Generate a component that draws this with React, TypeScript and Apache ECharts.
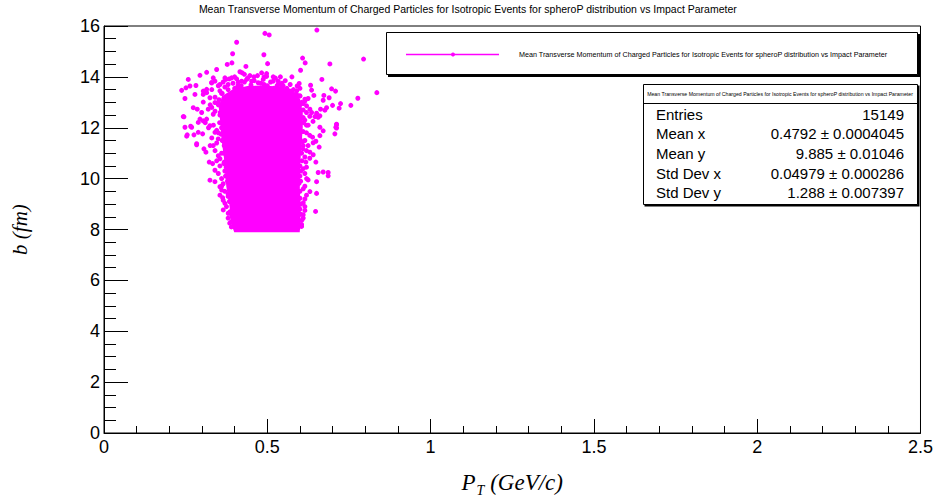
import React, { useEffect, useRef } from "react";
import * as echarts from "echarts";

const TITLE = "Mean Transverse Momentum of Charged Particles for Isotropic Events for spheroP distribution vs Impact Parameter";

// x-axis / y-axis ranges & ticks
const xRange = [0, 2.5];
const yRange = [0, 16];

// Dense core outline (data coordinates: pT, b)
const coreX = [0.402, 0.595, 0.598, 0.595, 0.596, 0.600, 0.604, 0.604, 0.596, 0.575, 0.540, 0.490, 0.440, 0.395, 0.365, 0.356, 0.360, 0.364, 0.372, 0.379, 0.388, 0.395];
const coreY = [7.95, 7.95, 8.8, 9.6, 10.5, 11.3, 12.0, 12.6, 13.1, 13.4, 13.55, 13.6, 13.58, 13.45, 13.2, 12.8, 12.3, 11.6, 10.8, 9.7, 9.0, 8.2];

// Individually visible points (pT, b)
const ptX = [
  0.4927, 0.5058, 0.4061, 0.3938, 0.4896, 0.3773, 0.3917, 0.4345, 0.5009, 0.3449, 0.4162, 0.4232, 0.3143, 0.2938, 0.4826, 0.4979,
  0.2580, 0.2378, 0.2509, 0.2632, 0.2815, 0.2479, 0.2785, 0.2448, 0.2479, 0.2684, 0.2733, 0.2855, 0.3039, 0.3143, 0.3296, 0.3345,
  0.3703, 0.3834, 0.4061, 0.4213, 0.4468, 0.4590, 0.5181, 0.5334, 0.5438, 0.3039, 0.2990, 0.2938,
  0.6518, 0.6080, 0.6160, 0.6916, 0.7947, 0.6019, 0.5753, 0.6671, 0.6325, 0.5976, 0.5915, 0.6356, 0.6426, 0.6968, 0.7090, 0.8354,
  0.7772, 0.6732, 0.6894, 0.6711, 0.7243, 0.7558, 0.7200, 0.6998, 0.6815, 0.6763, 0.6631, 0.6509, 0.6558, 0.6610, 0.7120, 0.7099,
  0.6610, 0.6304, 0.6356, 0.6457, 0.5998, 0.6151, 0.6203,
  0.7120, 0.7120, 0.7069, 0.6711, 0.6610, 0.6487, 0.6386, 0.6405, 0.6588, 0.6304, 0.6405, 0.6487, 0.6864, 0.6711, 0.6558, 0.6864,
  0.6509, 0.6304, 0.6509, 0.6151, 0.6151, 0.6099, 0.6478, 0.6050, 0.6203, 0.6099, 0.6181,
  0.2653, 0.2886, 0.3039, 0.2549, 0.2754, 0.2886, 0.3020, 0.2837, 0.3060, 0.3121, 0.3222, 0.3326, 0.3397, 0.3244, 0.3397, 0.3550,
  0.3602, 0.3550, 0.3632, 0.3703, 0.3651, 0.3804, 0.3908, 0.4009, 0.2427, 0.2531, 0.2837,
  0.3296, 0.3397, 0.3550, 0.3733, 0.3908, 0.4110, 0.4367, 0.4520, 0.4722, 0.4875, 0.4979, 0.5181, 0.5334, 0.5487, 0.5692, 0.5845,
  0.5998, 0.6151, 0.3143, 0.3039, 0.3244, 0.3397, 0.3191, 0.3345, 0.3143, 0.3244, 0.3397, 0.3498, 0.3345, 0.355, 0.367,
  0.600, 0.609, 0.597, 0.600, 0.606, 0.594, 0.41, 0.44, 0.47, 0.50, 0.53, 0.56, 0.59,
  0.37, 0.40, 0.45, 0.50, 0.52, 0.42, 0.47, 0.36, 0.55, 0.57, 0.35, 0.33, 0.60, 0.61, 0.62, 0.60, 0.61, 0.60, 0.60, 0.61, 0.60,
  0.36, 0.35, 0.36, 0.37, 0.365, 0.38, 0.39, 0.39, 0.595,
  0.31, 0.32, 0.335, 0.345, 0.33, 0.345, 0.325, 0.34, 0.35, 0.345, 0.355, 0.35, 0.36, 0.36, 0.37, 0.365, 0.375, 0.38, 0.385,
  0.355, 0.34, 0.325, 0.34, 0.355, 0.33,
  0.615, 0.625, 0.62, 0.63, 0.615, 0.625, 0.62, 0.615, 0.63, 0.62, 0.615, 0.625, 0.615, 0.62, 0.61, 0.615, 0.61, 0.605,
  0.63, 0.64, 0.62, 0.61, 0.625, 0.59, 0.60, 0.57, 0.555, 0.54,
  0.38, 0.395, 0.41, 0.43, 0.44, 0.46, 0.48, 0.49, 0.51, 0.525, 0.545, 0.47, 0.43, 0.40, 0.365, 0.35,
  0.392, 0.386, 0.384, 0.380, 0.378, 0.372, 0.374, 0.368, 0.366, 0.368, 0.362, 0.358, 0.360, 0.354, 0.356, 0.350, 0.352, 0.362, 0.380,
  0.600, 0.602, 0.603, 0.600, 0.602, 0.603, 0.606, 0.605, 0.608, 0.610, 0.611, 0.610, 0.605, 0.590, 0.580,
  0.41, 0.45, 0.49, 0.53, 0.56,
];
const ptY = [
  15.71, 15.65, 15.36, 14.91, 14.87, 14.49, 14.55, 14.41, 14.52, 14.29, 14.20, 14.16, 14.18, 14.06, 14.16, 14.13,
  13.90, 13.47, 13.57, 13.64, 13.66, 13.15, 13.31, 12.43, 12.02, 12.02, 12.79, 12.73, 13.44, 13.38, 13.77, 13.96,
  13.96, 13.92, 13.92, 13.83, 14.05, 14.00, 14.00, 13.83, 13.64, 13.01, 12.60, 12.34,
  15.84, 14.74, 14.55, 14.51, 14.70, 14.26, 14.00, 13.90, 13.67, 13.74, 13.64, 13.48, 13.27, 13.53, 13.44, 13.38,
  13.16, 13.27, 13.18, 13.08, 12.95, 12.88, 12.77, 12.88, 12.79, 12.69, 12.73, 12.57, 12.41, 12.47, 12.14, 12.02,
  12.02, 12.73, 12.60, 12.44, 13.25, 13.05, 12.86,
  12.12, 11.99, 11.76, 11.88, 11.69, 11.47, 11.63, 11.41, 11.24, 11.04, 10.94, 10.65, 10.24, 10.26, 10.24, 10.11,
  9.88, 9.49, 9.42, 9.20, 8.90, 8.58, 8.71, 8.12, 10.00, 10.39, 10.65,
  12.06, 12.21, 12.27, 11.72, 11.72, 11.82, 11.76, 11.37, 11.17, 11.04, 10.65, 10.59, 10.33, 9.94, 9.88, 9.68,
  9.55, 9.35, 9.25, 9.03, 8.77, 8.64, 8.32, 8.12, 12.44, 11.67, 11.33,
  13.77, 13.83, 13.70, 13.90, 13.96, 13.79, 13.90, 13.83, 13.77, 13.90, 14.02, 13.83, 13.70, 13.64, 13.44, 13.31,
  13.25, 13.12, 13.51, 13.31, 13.18, 12.99, 12.73, 12.53, 12.34, 12.08, 11.82, 11.56, 11.30, 10.78, 10.59,
  11.56, 11.17, 9.81, 9.23, 8.37, 8.06, 8.03, 8.03, 8.03, 8.03, 8.03, 8.03, 8.03,
  13.6, 13.55, 13.6, 13.65, 13.55, 13.65, 13.5, 13.35, 13.4, 13.25, 13.0, 12.8, 12.9, 12.4, 12.1, 11.9, 11.3, 10.5, 10.1, 9.6, 8.8,
  12.2, 11.8, 11.0, 10.3, 9.8, 9.3, 8.6, 8.1, 8.3,
  12.2, 12.0, 12.1, 11.9, 11.6, 11.4, 11.3, 11.1, 10.9, 10.7, 10.5, 10.2, 10.0, 9.7, 9.5, 9.15, 8.9, 8.45, 8.25,
  12.5, 12.65, 12.9, 13.2, 13.45, 13.5,
  12.3, 12.1, 11.8, 11.7, 11.5, 11.3, 11.1, 10.85, 10.8, 10.45, 10.2, 9.95, 9.7, 9.35, 9.05, 8.75, 8.45, 8.2,
  12.45, 12.25, 12.6, 12.95, 13.15, 13.45, 13.55, 13.7, 13.85, 14.0,
  13.7, 13.75, 13.65, 13.8, 13.95, 13.85, 13.75, 14.0, 13.8, 13.95, 13.75, 14.05, 14.1, 14.0, 13.8, 13.65,
  8.5, 8.7, 9.1, 9.4, 9.9, 10.1, 10.45, 10.65, 11.0, 11.3, 11.5, 11.75, 12.0, 12.2, 12.6, 12.9, 13.1, 13.35, 13.5,
  8.15, 8.6, 9.0, 9.5, 9.9, 10.3, 10.7, 11.0, 11.45, 11.85, 12.2, 12.7, 13.0, 13.3, 13.5,
  13.6, 13.68, 13.7, 13.65, 13.55,
];

// Statistics box
const statLabels = ["Entries", "Mean x", "Mean y", "Std Dev x", "Std Dev y"];
const statValues = ["15149", "0.4792 \u00b1 0.0004045", "9.885 \u00b1 0.01046", "0.04979 \u00b1 0.000286", "1.288 \u00b1 0.007397"];

const MAGENTA = "#ff00ff";
const SANS = "'Liberation Sans', Arial, sans-serif";
const SERIF = "'Liberation Serif', 'Times New Roman', serif";

export default function App() {
  const ref = useRef<HTMLDivElement>(null);
  useEffect(() => {
    if (!ref.current) return;
    const chart = echarts.init(ref.current, undefined, { renderer: "svg" });
    const points = ptX.map((x, i) => [x, ptY[i]]);
    const statRowY = [114, 133.5, 153, 173, 192.5];
    const graphics: any[] = [
      // title
      { type: "text", left: "center", top: 3, style: { text: TITLE, font: `10.5px 'Liberation Sans Narrow', ${SANS}`, fill: "#000" } },
      // legend box
      { type: "rect", shape: { x: 388, y: 34, width: 532, height: 43 }, style: { fill: "#000" }, z: 10 },
      { type: "rect", shape: { x: 386.5, y: 32.5, width: 531, height: 42 }, style: { fill: "#fff", stroke: "#000", lineWidth: 1 }, z: 11 },
      { type: "line", shape: { x1: 406, y1: 54.5, x2: 499, y2: 54.5 }, style: { stroke: MAGENTA, lineWidth: 1.5 }, z: 12 },
      { type: "circle", shape: { cx: 453, cy: 54.5, r: 2 }, style: { fill: MAGENTA }, z: 12 },
      { type: "text", x: 519, y: 54.5, style: { text: TITLE, font: `7.2px ${SANS}`, fill: "#000", verticalAlign: "middle" }, z: 12 },
      // stats box
      { type: "rect", shape: { x: 644.5, y: 85.5, width: 275, height: 121 }, style: { fill: "#000" }, z: 10 },
      { type: "rect", shape: { x: 643.5, y: 84.5, width: 274, height: 120 }, style: { fill: "#fff", stroke: "#000", lineWidth: 1 }, z: 11 },
      { type: "line", shape: { x1: 643.5, y1: 103.5, x2: 917.5, y2: 103.5 }, style: { stroke: "#000", lineWidth: 1 }, z: 12 },
      { type: "text", x: 780, y: 94, style: { text: TITLE, font: `5.2px ${SANS}`, fill: "#000", align: "center", verticalAlign: "middle" }, z: 12 },
    ];
    statLabels.forEach((l, i) => {
      graphics.push({ type: "text", x: 656, y: statRowY[i], style: { text: l, font: `15px ${SANS}`, fill: "#000", verticalAlign: "middle" }, z: 12 });
      graphics.push({ type: "text", x: 904, y: statRowY[i], style: { text: statValues[i], font: `15px ${SANS}`, fill: "#000", align: "right", verticalAlign: "middle" }, z: 12 });
    });

    chart.setOption({
      animation: false,
      backgroundColor: "#fff",
      grid: { left: 104, top: 26, width: 817, height: 411, show: true, borderColor: "#000", borderWidth: 1, backgroundColor: "transparent" },
      xAxis: {
        type: "value",
        min: xRange[0],
        max: xRange[1],
        interval: 0.5,
        name: "{p|P}{t|T}{p| (GeV/c)}",
        nameLocation: "middle",
        nameGap: 34,
        nameTextStyle: {
          rich: {
            p: { fontFamily: SERIF, fontStyle: "italic", fontSize: 23, color: "#000" },
            t: { fontFamily: SERIF, fontStyle: "italic", fontSize: 14, color: "#000", padding: [16, 0, 0, 1] },
          },
        },
        axisLine: { show: true, lineStyle: { color: "#000", width: 1 } },
        axisTick: { show: true, inside: true, length: 14, lineStyle: { color: "#000" } },
        minorTick: { show: true, splitNumber: 5, length: 7, lineStyle: { color: "#000" } },
        splitLine: { show: false },
        axisLabel: { color: "#000", fontFamily: SANS, fontSize: 18, margin: 5 },
      },
      yAxis: {
        type: "value",
        min: yRange[0],
        max: yRange[1],
        interval: 2,
        name: "b (fm)",
        nameLocation: "middle",
        nameGap: 74,
        nameRotate: 90,
        nameTextStyle: { fontFamily: SERIF, fontStyle: "italic", fontSize: 21, color: "#000" },
        axisLine: { show: true, lineStyle: { color: "#000", width: 1 } },
        axisTick: { show: true, inside: true, length: 24, lineStyle: { color: "#000" } },
        minorTick: { show: true, splitNumber: 4, length: 12, lineStyle: { color: "#000" } },
        splitLine: { show: false },
        axisLabel: { color: "#000", fontFamily: SANS, fontSize: 18, margin: 4 },
      },
      graphic: graphics,
      series: [
        {
          type: "custom",
          silent: true,
          z: 2,
          data: [[coreX[0], coreY[0]]],
          renderItem: (_params: any, api: any) => {
            const pts = coreX.map((x, i) => api.coord([x, coreY[i]]));
            return { type: "polygon", shape: { points: pts }, style: { fill: MAGENTA, stroke: MAGENTA, lineWidth: 3 } };
          },
        },
        {
          type: "scatter",
          z: 3,
          symbol: "circle",
          symbolSize: 5,
          itemStyle: { color: MAGENTA, opacity: 1 },
          data: points,
        },
      ],
    });
    return () => chart.dispose();
  }, []);
  return <div ref={ref} style={{ position: "fixed", left: 0, top: 0, width: 936, height: 502 }} />;
}
